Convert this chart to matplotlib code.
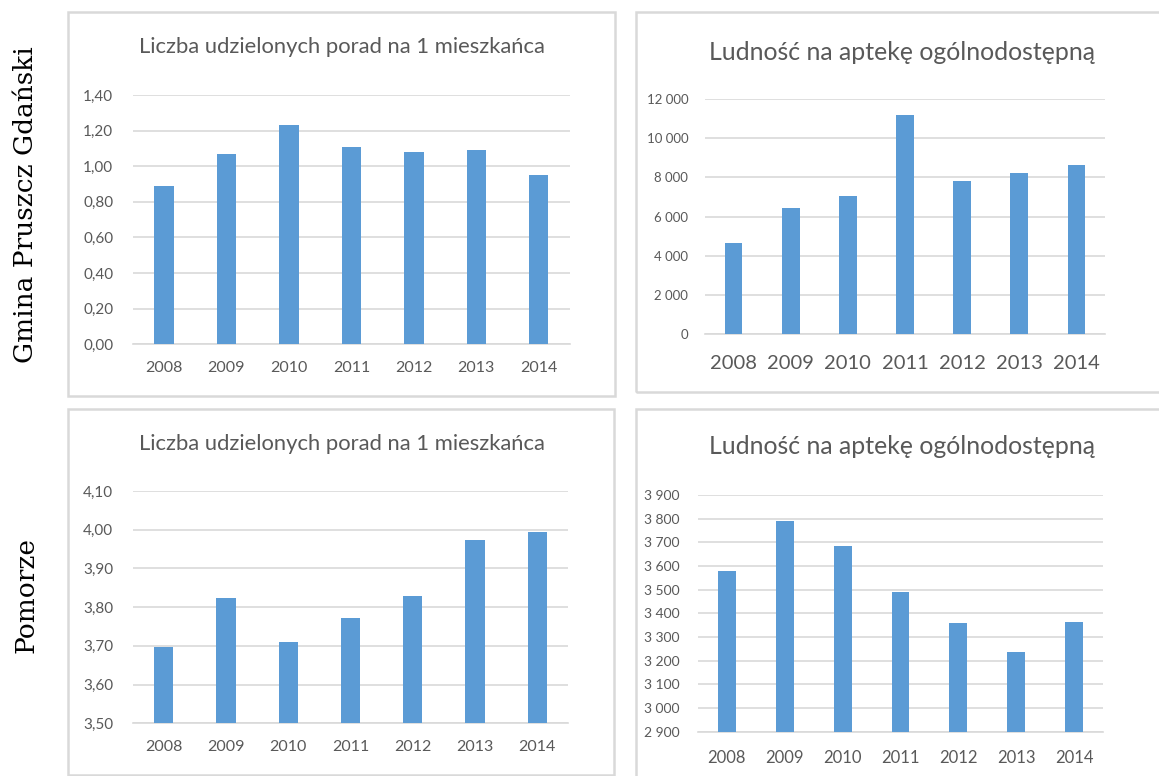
import matplotlib
matplotlib.use("Agg")
import matplotlib.pyplot as plt
from matplotlib.patches import Rectangle
from matplotlib.ticker import FuncFormatter

plt.rcParams['font.family'] = ['Lato', 'DejaVu Sans']

W, H = 1159, 776

years = ['2008', '2009', '2010', '2011', '2012', '2013', '2014']

# Gmina Pruszcz Gdański
gmina_porady = [0.89, 1.07, 1.23, 1.11, 1.08, 1.09, 0.95]
gmina_apteka = [4660, 6450, 7030, 11180, 7830, 8200, 8610]

# Pomorze
pom_porady = [3.696, 3.823, 3.709, 3.773, 3.830, 3.973, 3.995]
pom_apteka = [3577, 3789, 3686, 3489, 3359, 3235, 3365]

title_porady = "Liczba udzielonych porad na 1 mieszkańca"
title_apteka = "Ludność na aptekę ogólnodostępną"
row_labels = ["Gmina Pruszcz Gdański", "Pomorze"]

BAR = '#5B9BD5'
GRID = '#D9D9D9'
TXT = '#595959'


def fx(x):
    return x / W


def fy(y):
    return 1 - y / H


def comma(v, pos):
    return f"{v:.2f}".replace('.', ',')


def thousands(v, pos):
    return f"{int(round(v)):,}".replace(',', ' ')


def make_axes(fig, x0, x1, y0, y1):
    return fig.add_axes([fx(x0), fy(y1), (x1 - x0) / W, (y1 - y0) / H])


def style(ax, vals, ylim, step, fmt, xsize, ysize, pad, xpad=12):
    ax.bar(range(len(years)), vals, width=0.31, color=BAR, zorder=3)
    ax.set_xlim(-0.5, len(years) - 0.5)
    ax.set_ylim(*ylim)
    ticks = []
    t = ylim[0]
    while t <= ylim[1] + 1e-9:
        ticks.append(t)
        t += step
    ax.set_yticks(ticks)
    ax.yaxis.set_major_formatter(FuncFormatter(fmt))
    ax.set_xticks(range(len(years)))
    ax.set_xticklabels(years)
    ax.grid(axis='y', color=GRID, linewidth=1.2, zorder=0)
    for s in ['top', 'right', 'left']:
        ax.spines[s].set_visible(False)
    ax.spines['bottom'].set_color(GRID)
    ax.spines['bottom'].set_linewidth(1.2)
    ax.tick_params(axis='both', length=0, colors=TXT)
    ax.tick_params(axis='y', labelsize=ysize, pad=pad)
    ax.tick_params(axis='x', labelsize=xsize, pad=xpad)
    ax.set_facecolor('none')


fig = plt.figure(figsize=(W / 100, H / 100), dpi=100)

# panel frames
for (x0, y0, x1, y1) in [(67.7, 12, 615.3, 396), (636.3, 12, 1175, 392),
                         (67.7, 408.7, 613.7, 775), (636.3, 409, 1175, 790)]:
    fig.add_artist(Rectangle((fx(x0), fy(y1)), (x1 - x0) / W, (y1 - y0) / H,
                             transform=fig.transFigure, fill=False,
                             edgecolor=GRID, linewidth=1.8))

ax1 = make_axes(fig, 132.7, 570, 95, 344.3)
style(ax1, gmina_porady, (0, 1.4), 0.2, comma, 11.5, 11, 14)

ax2 = make_axes(fig, 705, 1105, 99, 334)
style(ax2, gmina_apteka, (0, 12000), 2000, thousands, 14.5, 9.5, 12, xpad=15)

ax3 = make_axes(fig, 132.7, 568.3, 491, 723.3)
style(ax3, pom_porady, (3.5, 4.1), 0.1, comma, 11.5, 11, 14)

ax4 = make_axes(fig, 698, 1103, 495, 731.7)
style(ax4, pom_apteka, (2900, 3900), 100, thousands, 12, 10, 13, xpad=13)

fig.text(fx(342), fy(47), title_porady, ha='center', va='center', fontsize=15.8, color=TXT)
fig.text(fx(902), fy(52), title_apteka, ha='center', va='center', fontsize=17.9, color=TXT)
fig.text(fx(342), fy(444), title_porady, ha='center', va='center', fontsize=15.8, color=TXT)
fig.text(fx(902), fy(447), title_apteka, ha='center', va='center', fontsize=17.9, color=TXT)

fig.text(fx(26), fy(205), row_labels[0], rotation=90, ha='center', va='center',
         fontsize=19, family='DejaVu Serif', color='black')
fig.text(fx(26), fy(595), row_labels[1], rotation=90, ha='center', va='center',
         fontsize=19, family='DejaVu Serif', color='black')

fig.savefig('out.png', dpi=100)
